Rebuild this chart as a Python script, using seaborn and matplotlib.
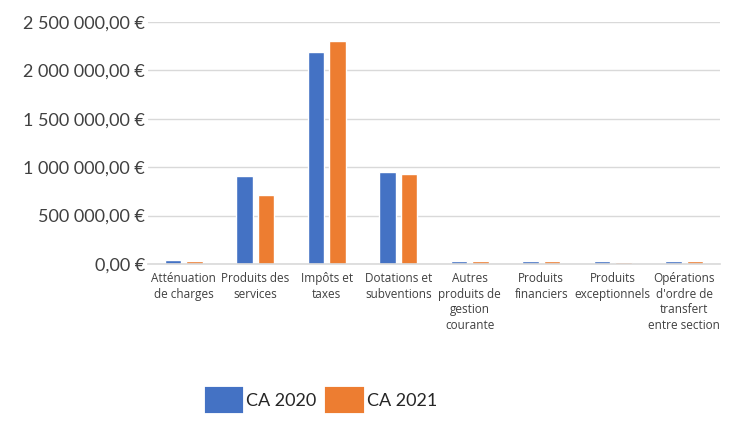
import numpy as np
import pandas as pd
import matplotlib.pyplot as plt
import seaborn as sns
from matplotlib.ticker import FuncFormatter
from matplotlib.patches import Patch

# Values
categories = ["Atténuation\nde charges", "Produits des\nservices", "Impôts et\ntaxes",
              "Dotations et\nsubventions", "Autres\nproduits de\ngestion\ncourante",
              "Produits\nfinanciers", "Produits\nexceptionnels",
              "Opérations\nd'ordre de\ntransfert\nentre section"]
ca_2020 = [38000, 907000, 2186000, 955000, 36000, 36000, 32000, 36000]
ca_2021 = [36000, 711000, 2299000, 925000, 35000, 35000, 20000, 36000]
series = ["CA 2020", "CA 2021"]
colors = ["#4472c4", "#ed7d31"]

df = pd.DataFrame({
    "cat": categories * 2,
    "value": ca_2020 + ca_2021,
    "serie": [series[0]] * len(categories) + [series[1]] * len(categories),
})

sns.set_style("white")
plt.rcParams["font.family"] = ["Lato", "DejaVu Sans"]

fig = plt.figure(figsize=(7.32, 4.21), dpi=100)
ax = fig.add_axes([148 / 732, 1 - 264 / 421, (720 - 148) / 732, (264 - 22) / 421])

sns.barplot(data=df, x="cat", y="value", hue="serie", palette=colors,
            width=0.6, gap=0.22, ax=ax, legend=False, saturation=1)

ax.set_ylim(0, 2500000)
ax.set_yticks(np.arange(0, 2500001, 500000))


def fmt(v, pos):
    s = f"{v:,.2f}".replace(",", " ").replace(".", ",")
    return s + " €"


ax.yaxis.set_major_formatter(FuncFormatter(fmt))
ax.tick_params(axis="y", labelsize=13, colors="#404040", length=0, pad=2)
ax.tick_params(axis="x", labelsize=8.5, colors="#404040", length=0, pad=6)
for lbl in ax.get_xticklabels():
    lbl.set_family(["Open Sans", "DejaVu Sans"])
    lbl.set_linespacing(1.25)
ax.set_xlabel("")
ax.set_ylabel("")
ax.grid(axis="y", color="#d9d9d9", linewidth=1)
ax.set_axisbelow(True)
for s in ["top", "right", "left"]:
    ax.spines[s].set_visible(False)
ax.spines["bottom"].set_color("#d9d9d9")
ax.spines["bottom"].set_linewidth(1.2)

handles = [Patch(facecolor=c, edgecolor=c, joinstyle="round", linewidth=3) for c in colors]
fig.legend(handles, series, loc="lower center", bbox_to_anchor=(0.44, -0.015), ncol=2,
           frameon=False, fontsize=13, handlelength=1.9, handleheight=1.5,
           handletextpad=0.3, columnspacing=0.6)

fig.savefig("out.png", dpi=100)
